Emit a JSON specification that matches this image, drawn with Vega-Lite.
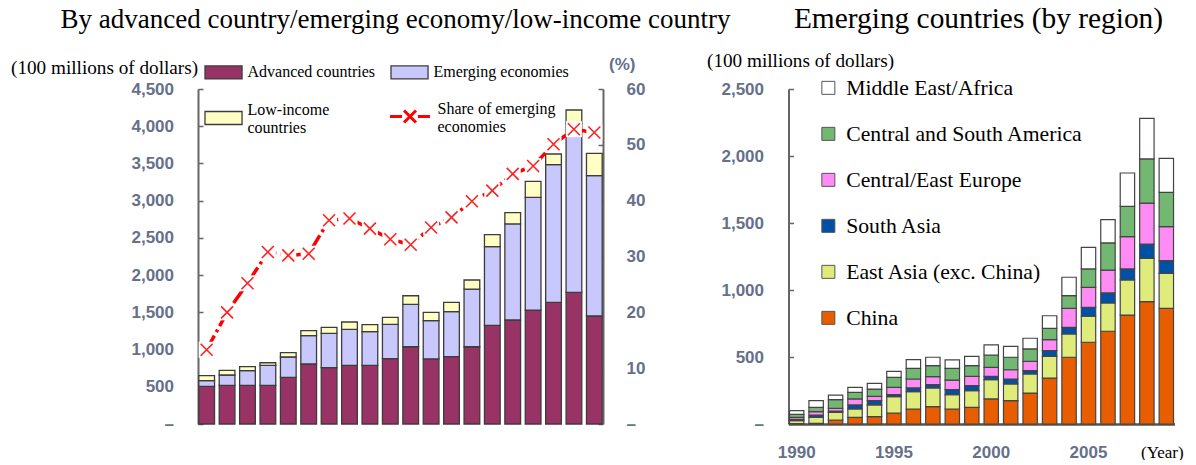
{
  "$schema": "https://vega.github.io/schema/vega-lite/v6.json",
  "padding": {"left": 10, "top": 4, "right": 0, "bottom": 0},
  "bounds": "flush",
  "spacing": 185.5,
  "config": {
    "view": {"stroke": null},
    "axis": {
      "labelFont": "Liberation Sans", "labelFontSize": 17, "labelFontWeight": "bold", "labelColor": "#66708a",
      "grid": false, "domainColor": "#666666", "domainWidth": 2, "tickColor": "#666666", "tickWidth": 1.5,
      "titleFont": "Liberation Serif", "titleFontWeight": "normal", "titleColor": "#000000", "titleFontSize": 19.2
    },
    "legend": {"labelFont": "Liberation Serif", "labelColor": "#000000", "labelLimit": 400, "padding": 0, "title": null},
    "title": {"font": "Liberation Serif", "fontWeight": "normal", "color": "#000000"}
  },
  "datasets": {
    "economies": [
      {"year": 1990, "group": "Advanced countries", "value": 505}, {"year": 1990, "group": "Emerging economies", "value": 77}, {"year": 1990, "group": "Low-income countries", "value": 67},
      {"year": 1991, "group": "Advanced countries", "value": 519}, {"year": 1991, "group": "Emerging economies", "value": 139}, {"year": 1991, "group": "Low-income countries", "value": 62},
      {"year": 1992, "group": "Advanced countries", "value": 519}, {"year": 1992, "group": "Emerging economies", "value": 197}, {"year": 1992, "group": "Low-income countries", "value": 54},
      {"year": 1993, "group": "Advanced countries", "value": 519}, {"year": 1993, "group": "Emerging economies", "value": 269}, {"year": 1993, "group": "Low-income countries", "value": 35},
      {"year": 1994, "group": "Advanced countries", "value": 626}, {"year": 1994, "group": "Emerging economies", "value": 274}, {"year": 1994, "group": "Low-income countries", "value": 58},
      {"year": 1995, "group": "Advanced countries", "value": 806}, {"year": 1995, "group": "Emerging economies", "value": 380}, {"year": 1995, "group": "Low-income countries", "value": 67},
      {"year": 1996, "group": "Advanced countries", "value": 756}, {"year": 1996, "group": "Emerging economies", "value": 461}, {"year": 1996, "group": "Low-income countries", "value": 81},
      {"year": 1997, "group": "Advanced countries", "value": 788}, {"year": 1997, "group": "Emerging economies", "value": 483}, {"year": 1997, "group": "Low-income countries", "value": 99},
      {"year": 1998, "group": "Advanced countries", "value": 788}, {"year": 1998, "group": "Emerging economies", "value": 452}, {"year": 1998, "group": "Low-income countries", "value": 94},
      {"year": 1999, "group": "Advanced countries", "value": 877}, {"year": 1999, "group": "Emerging economies", "value": 461}, {"year": 1999, "group": "Low-income countries", "value": 94},
      {"year": 2000, "group": "Advanced countries", "value": 1038}, {"year": 2000, "group": "Emerging economies", "value": 570}, {"year": 2000, "group": "Low-income countries", "value": 115},
      {"year": 2001, "group": "Advanced countries", "value": 875}, {"year": 2001, "group": "Emerging economies", "value": 513}, {"year": 2001, "group": "Low-income countries", "value": 111},
      {"year": 2002, "group": "Advanced countries", "value": 904}, {"year": 2002, "group": "Emerging economies", "value": 606}, {"year": 2002, "group": "Low-income countries", "value": 124},
      {"year": 2003, "group": "Advanced countries", "value": 1038}, {"year": 2003, "group": "Emerging economies", "value": 775}, {"year": 2003, "group": "Low-income countries", "value": 121},
      {"year": 2004, "group": "Advanced countries", "value": 1325}, {"year": 2004, "group": "Emerging economies", "value": 1057}, {"year": 2004, "group": "Low-income countries", "value": 161},
      {"year": 2005, "group": "Advanced countries", "value": 1397}, {"year": 2005, "group": "Emerging economies", "value": 1290}, {"year": 2005, "group": "Low-income countries", "value": 152},
      {"year": 2006, "group": "Advanced countries", "value": 1531}, {"year": 2006, "group": "Emerging economies", "value": 1513}, {"year": 2006, "group": "Low-income countries", "value": 216},
      {"year": 2007, "group": "Advanced countries", "value": 1634}, {"year": 2007, "group": "Emerging economies", "value": 1849}, {"year": 2007, "group": "Low-income countries", "value": 144},
      {"year": 2008, "group": "Advanced countries", "value": 1768}, {"year": 2008, "group": "Emerging economies", "value": 2271}, {"year": 2008, "group": "Low-income countries", "value": 179},
      {"year": 2009, "group": "Advanced countries", "value": 1451}, {"year": 2009, "group": "Emerging economies", "value": 1885}, {"year": 2009, "group": "Low-income countries", "value": 299}
    ],
    "share": [
      {"year": 1990, "share": 13.3}, {"year": 1991, "share": 20.0}, {"year": 1992, "share": 25.2}, {"year": 1993, "share": 30.8},
      {"year": 1994, "share": 30.2}, {"year": 1995, "share": 30.5}, {"year": 1996, "share": 36.5}, {"year": 1997, "share": 36.8},
      {"year": 1998, "share": 35.0}, {"year": 1999, "share": 33.1}, {"year": 2000, "share": 32.1}, {"year": 2001, "share": 35.2},
      {"year": 2002, "share": 37.0}, {"year": 2003, "share": 39.9}, {"year": 2004, "share": 41.8}, {"year": 2005, "share": 44.8},
      {"year": 2006, "share": 46.2}, {"year": 2007, "share": 50.1}, {"year": 2008, "share": 52.8}, {"year": 2009, "share": 52.2}
    ],
    "regions": [
      {"year": 1990, "region": "China", "value": 3}, {"year": 1990, "region": "East Asia (exc. China)", "value": 22}, {"year": 1990, "region": "South Asia", "value": 10}, {"year": 1990, "region": "Central/East Europe", "value": 15}, {"year": 1990, "region": "Central and South America", "value": 22}, {"year": 1990, "region": "Middle East/Africa", "value": 28},
      {"year": 1991, "region": "China", "value": 5}, {"year": 1991, "region": "East Asia (exc. China)", "value": 45}, {"year": 1991, "region": "South Asia", "value": 17}, {"year": 1991, "region": "Central/East Europe", "value": 25}, {"year": 1991, "region": "Central and South America", "value": 32}, {"year": 1991, "region": "Middle East/Africa", "value": 50},
      {"year": 1992, "region": "China", "value": 30}, {"year": 1992, "region": "East Asia (exc. China)", "value": 57}, {"year": 1992, "region": "South Asia", "value": 10}, {"year": 1992, "region": "Central/East Europe", "value": 20}, {"year": 1992, "region": "Central and South America", "value": 65}, {"year": 1992, "region": "Middle East/Africa", "value": 34},
      {"year": 1993, "region": "China", "value": 50}, {"year": 1993, "region": "East Asia (exc. China)", "value": 62}, {"year": 1993, "region": "South Asia", "value": 30}, {"year": 1993, "region": "Central/East Europe", "value": 45}, {"year": 1993, "region": "Central and South America", "value": 49}, {"year": 1993, "region": "Middle East/Africa", "value": 38},
      {"year": 1994, "region": "China", "value": 55}, {"year": 1994, "region": "East Asia (exc. China)", "value": 87}, {"year": 1994, "region": "South Asia", "value": 32}, {"year": 1994, "region": "Central/East Europe", "value": 32}, {"year": 1994, "region": "Central and South America", "value": 55}, {"year": 1994, "region": "Middle East/Africa", "value": 42},
      {"year": 1995, "region": "China", "value": 82}, {"year": 1995, "region": "East Asia (exc. China)", "value": 122}, {"year": 1995, "region": "South Asia", "value": 15}, {"year": 1995, "region": "Central/East Europe", "value": 55}, {"year": 1995, "region": "Central and South America", "value": 74}, {"year": 1995, "region": "Middle East/Africa", "value": 45},
      {"year": 1996, "region": "China", "value": 112}, {"year": 1996, "region": "East Asia (exc. China)", "value": 129}, {"year": 1996, "region": "South Asia", "value": 28}, {"year": 1996, "region": "Central/East Europe", "value": 67}, {"year": 1996, "region": "Central and South America", "value": 79}, {"year": 1996, "region": "Middle East/Africa", "value": 65},
      {"year": 1997, "region": "China", "value": 129}, {"year": 1997, "region": "East Asia (exc. China)", "value": 140}, {"year": 1997, "region": "South Asia", "value": 25}, {"year": 1997, "region": "Central/East Europe", "value": 59}, {"year": 1997, "region": "Central and South America", "value": 82}, {"year": 1997, "region": "Middle East/Africa", "value": 63},
      {"year": 1998, "region": "China", "value": 112}, {"year": 1998, "region": "East Asia (exc. China)", "value": 107}, {"year": 1998, "region": "South Asia", "value": 37}, {"year": 1998, "region": "Central/East Europe", "value": 72}, {"year": 1998, "region": "Central and South America", "value": 87}, {"year": 1998, "region": "Middle East/Africa", "value": 63},
      {"year": 1999, "region": "China", "value": 124}, {"year": 1999, "region": "East Asia (exc. China)", "value": 125}, {"year": 1999, "region": "South Asia", "value": 37}, {"year": 1999, "region": "Central/East Europe", "value": 70}, {"year": 1999, "region": "Central and South America", "value": 79}, {"year": 1999, "region": "Middle East/Africa", "value": 70},
      {"year": 2000, "region": "China", "value": 187}, {"year": 2000, "region": "East Asia (exc. China)", "value": 144}, {"year": 2000, "region": "South Asia", "value": 25}, {"year": 2000, "region": "Central/East Europe", "value": 67}, {"year": 2000, "region": "Central and South America", "value": 92}, {"year": 2000, "region": "Middle East/Africa", "value": 75},
      {"year": 2001, "region": "China", "value": 174}, {"year": 2001, "region": "East Asia (exc. China)", "value": 125}, {"year": 2001, "region": "South Asia", "value": 37}, {"year": 2001, "region": "Central/East Europe", "value": 69}, {"year": 2001, "region": "Central and South America", "value": 93}, {"year": 2001, "region": "Middle East/Africa", "value": 82},
      {"year": 2002, "region": "China", "value": 231}, {"year": 2002, "region": "East Asia (exc. China)", "value": 142}, {"year": 2002, "region": "South Asia", "value": 25}, {"year": 2002, "region": "Central/East Europe", "value": 70}, {"year": 2002, "region": "Central and South America", "value": 92}, {"year": 2002, "region": "Middle East/Africa", "value": 80},
      {"year": 2003, "region": "China", "value": 343}, {"year": 2003, "region": "East Asia (exc. China)", "value": 162}, {"year": 2003, "region": "South Asia", "value": 42}, {"year": 2003, "region": "Central/East Europe", "value": 82}, {"year": 2003, "region": "Central and South America", "value": 85}, {"year": 2003, "region": "Middle East/Africa", "value": 94},
      {"year": 2004, "region": "China", "value": 498}, {"year": 2004, "region": "East Asia (exc. China)", "value": 174}, {"year": 2004, "region": "South Asia", "value": 49}, {"year": 2004, "region": "Central/East Europe", "value": 142}, {"year": 2004, "region": "Central and South America", "value": 95}, {"year": 2004, "region": "Middle East/Africa", "value": 137},
      {"year": 2005, "region": "China", "value": 610}, {"year": 2005, "region": "East Asia (exc. China)", "value": 194}, {"year": 2005, "region": "South Asia", "value": 67}, {"year": 2005, "region": "Central/East Europe", "value": 149}, {"year": 2005, "region": "Central and South America", "value": 137}, {"year": 2005, "region": "Middle East/Africa", "value": 161},
      {"year": 2006, "region": "China", "value": 692}, {"year": 2006, "region": "East Asia (exc. China)", "value": 211}, {"year": 2006, "region": "South Asia", "value": 75}, {"year": 2006, "region": "Central/East Europe", "value": 171}, {"year": 2006, "region": "Central and South America", "value": 202}, {"year": 2006, "region": "Middle East/Africa", "value": 174},
      {"year": 2007, "region": "China", "value": 813}, {"year": 2007, "region": "East Asia (exc. China)", "value": 262}, {"year": 2007, "region": "South Asia", "value": 82}, {"year": 2007, "region": "Central/East Europe", "value": 241}, {"year": 2007, "region": "Central and South America", "value": 226}, {"year": 2007, "region": "Middle East/Africa", "value": 249},
      {"year": 2008, "region": "China", "value": 913}, {"year": 2008, "region": "East Asia (exc. China)", "value": 323}, {"year": 2008, "region": "South Asia", "value": 107}, {"year": 2008, "region": "Central/East Europe", "value": 306}, {"year": 2008, "region": "Central and South America", "value": 329}, {"year": 2008, "region": "Middle East/Africa", "value": 303},
      {"year": 2009, "region": "China", "value": 863}, {"year": 2009, "region": "East Asia (exc. China)", "value": 261}, {"year": 2009, "region": "South Asia", "value": 95}, {"year": 2009, "region": "Central/East Europe", "value": 254}, {"year": 2009, "region": "Central and South America", "value": 256}, {"year": 2009, "region": "Middle East/Africa", "value": 254}
    ]
  },
  "resolve": {"scale": {"color": "independent"}, "legend": {"color": "independent"}},
  "hconcat": [
    {
      "width": 405,
      "height": 335,
      "title": {"text": "By advanced country/emerging economy/low-income country", "fontSize": 27, "anchor": "middle", "frame": "group", "dx": -5, "baseline": "alphabetic", "offset": 0},
      "layer": [
        {
          "data": {"name": "economies"},
          "transform": [
            {"calculate": "indexof(['Advanced countries','Emerging economies','Low-income countries'], datum.group)", "as": "stackOrder"},
            {"stack": "value", "groupby": ["year"], "sort": [{"field": "stackOrder", "order": "ascending"}], "as": ["v0", "v1"]}
          ],
          "encoding": {
            "x": {
              "field": "year", "type": "ordinal",
              "scale": {"paddingInner": 0.23, "paddingOuter": 0.04},
              "axis": {
                "values": [1990, 1995, 2000, 2005], "labelAngle": 0, "ticks": false, "labelPadding": 20,
                "domainColor": "#555555", "domainWidth": 2.5,
                "title": "(Year)", "titleFontSize": 17, "titleAlign": "left", "titleBaseline": "alphabetic", "titleX": 407.5, "titleY": 33
              }
            },
            "y": {
              "field": "v1", "type": "quantitative",
              "scale": {"domain": [0, 4500]},
              "axis": {
                "values": [0, 500, 1000, 1500, 2000, 2500, 3000, 3500, 4000, 4500],
                "labelExpr": "datum.value === 0 ? '–' : format(datum.value, ',')",
                "tickSize": -5, "labelPadding": 29.5,
                "title": "(100 millions of dollars)", "titleAngle": 0, "titleAlign": "left", "titleBaseline": "alphabetic", "titleX": -187.5, "titleY": -16
              }
            },
            "y2": {"field": "v0"}
          },
          "layer": [
            {
              "transform": [{"filter": "datum.group !== 'Low-income countries'"}],
              "mark": {"type": "bar", "stroke": "#3c3c3c", "strokeWidth": 1.3},
              "encoding": {
                "color": {
                  "field": "group", "type": "nominal",
                  "scale": {"domain": ["Advanced countries", "Emerging economies"], "range": ["#993366", "#c8c8fc"]},
                  "legend": {
                    "orient": "none", "legendX": 5.5, "legendY": -25,
                    "columns": 2, "direction": "horizontal", "columnPadding": 12,
                    "symbolSize": 169, "symbolType": "M-1,-1H4.7V1H-1Z", "symbolStrokeColor": "#3c3c3c", "symbolStrokeWidth": 1.3,
                    "labelFontSize": 16, "labelOffset": 28
                  }
                }
              }
            },
            {
              "transform": [{"filter": "datum.group === 'Low-income countries'"}],
              "mark": {"type": "bar", "stroke": "#3c3c3c", "strokeWidth": 1.3},
              "encoding": {
                "color": {
                  "field": "group", "type": "nominal",
                  "scale": {"domain": ["Low-income countries"], "range": ["#ffffc4"]},
                  "legend": {
                    "orient": "none", "legendX": 5.5, "legendY": 21,
                    "symbolSize": 169, "symbolType": "M-1,-1H4.7V1H-1Z", "symbolStrokeColor": "#3c3c3c", "symbolStrokeWidth": 1.3,
                    "labelFontSize": 16, "labelOffset": 28, "labelBaseline": "bottom",
                    "labelExpr": "['Low-income', 'countries']"
                  }
                }
              }
            }
          ],
          "resolve": {"scale": {"color": "independent"}, "legend": {"color": "independent"}}
        },
        {
          "data": {"name": "share"},
          "encoding": {
            "x": {"field": "year", "type": "ordinal", "axis": null},
            "y": {
              "field": "share", "type": "quantitative",
              "scale": {"domain": [0, 60]},
              "axis": {
                "orient": "right",
                "values": [0, 10, 20, 30, 40, 50, 60],
                "labelExpr": "datum.value === 0 ? '–' : datum.value",
                "tickSize": -5, "labelPadding": 28,
                "title": "(%)", "titleFont": "Liberation Sans", "titleFontWeight": "bold", "titleFontSize": 17, "titleColor": "#66708a",
                "titleAngle": 0, "titleAlign": "left", "titleBaseline": "alphabetic", "titleX": 5.5, "titleY": -20
              }
            }
          },
          "layer": [
            {
              "mark": {"type": "line", "strokeWidth": 3.5, "strokeDash": [16, 4, 3, 4]},
              "encoding": {
                "stroke": {
                  "datum": "Share of emerging economies", "type": "nominal",
                  "scale": {"range": ["#ff0000"]},
                  "legend": {
                    "orient": "none", "legendX": 192.5, "legendY": 19.5,
                    "symbolType": "M-1.31,0H0.55M2.99,0H4.85M0.85,-0.92L2.69,0.92M0.85,0.92L2.69,-0.92",
                    "symbolSize": 169, "symbolStrokeWidth": 3, "symbolDash": [100, 0], "symbolFillColor": "transparent",
                    "labelFontSize": 16, "labelOffset": 31, "labelBaseline": "bottom",
                    "labelExpr": "['Share of emerging', 'economies']"
                  }
                }
              }
            },
            {"mark": {"type": "point", "shape": "square", "size": 256, "filled": true, "color": "#ffffff", "opacity": 1, "strokeWidth": 0}},
            {"mark": {"type": "point", "shape": "M-1,-1L1,1M-1,1L1,-1", "size": 144, "filled": false, "color": "#ff2020", "strokeWidth": 1.6, "opacity": 1}}
          ]
        }
      ],
      "resolve": {"scale": {"y": "independent"}}
    },
    {
      "width": 386,
      "height": 335,
      "title": {"text": "Emerging countries (by region)", "fontSize": 29.4, "anchor": "middle", "frame": "group", "dx": -3, "baseline": "alphabetic", "offset": -6.5},
      "data": {"name": "regions"},
      "transform": [{"calculate": "indexof(['China','East Asia (exc. China)','South Asia','Central/East Europe','Central and South America','Middle East/Africa'], datum.region)", "as": "stackOrder"}],
      "mark": {"type": "bar", "stroke": "#444444", "strokeWidth": 1.2},
      "encoding": {
        "x": {
          "field": "year", "type": "ordinal",
          "scale": {"paddingInner": 0.26, "paddingOuter": 0.05},
          "axis": {
            "values": [1990, 1995, 2000, 2005], "labelAngle": 0, "ticks": false, "labelPadding": 20,
            "domainColor": "#555555", "domainWidth": 2.5,
            "title": "(Year)", "titleFontSize": 17, "titleAlign": "left", "titleBaseline": "alphabetic", "titleX": 352, "titleY": 33
          }
        },
        "y": {
          "field": "value", "type": "quantitative", "stack": "zero",
          "scale": {"domain": [0, 2500]},
          "axis": {
            "values": [0, 500, 1000, 1500, 2000, 2500],
            "labelExpr": "datum.value === 0 ? '–' : format(datum.value, ',')",
            "tickSize": -5, "labelPadding": 30,
            "title": "(100 millions of dollars)", "titleAngle": 0, "titleAlign": "left", "titleBaseline": "alphabetic", "titleX": -82, "titleY": -23
          }
        },
        "color": {
          "field": "region", "type": "nominal",
          "scale": {
            "domain": ["Middle East/Africa", "Central and South America", "Central/East Europe", "South Asia", "East Asia (exc. China)", "China"],
            "range": ["#ffffff", "#72b872", "#ff8cf5", "#0050a5", "#dfec7c", "#e85d00"]
          },
          "legend": {
            "orient": "none", "legendX": 29, "legendY": -12, "direction": "vertical",
            "symbolType": "square", "symbolSize": 169, "symbolStrokeColor": "#555555", "symbolStrokeWidth": 1,
            "labelFontSize": 21.7, "labelOffset": 7, "rowPadding": 23
          }
        },
        "order": {"field": "stackOrder"}
      }
    }
  ]
}
